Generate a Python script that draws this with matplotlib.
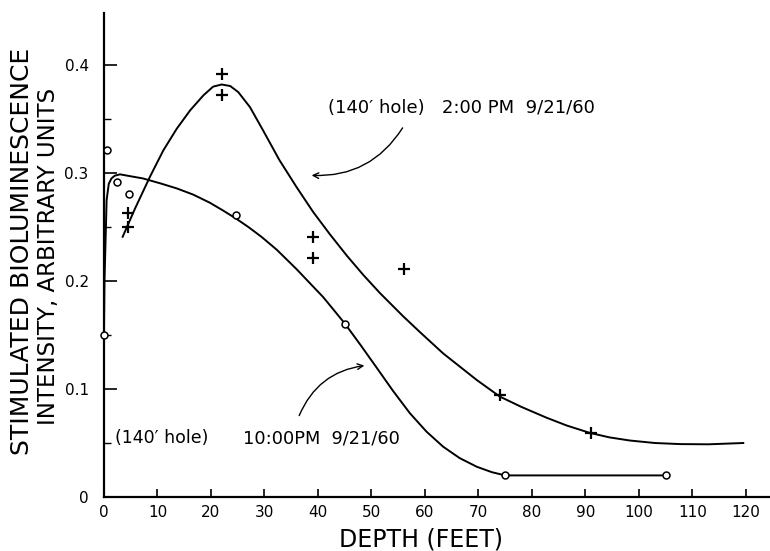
import matplotlib.pyplot as plt
from matplotlib.ticker import MultipleLocator

# measured points, 2:00 PM run (plus signs)
pm2_depth = [4.5, 4.5, 22, 22, 39, 39, 56, 74, 91]
pm2_value = [0.263, 0.250, 0.392, 0.372, 0.241, 0.221, 0.211, 0.094, 0.059]

# measured points, 10:00 PM run (open circles)
pm10_depth = [0, 0.6, 2.4, 4.6, 24.7, 45, 75, 105]
pm10_value = [0.150, 0.321, 0.292, 0.281, 0.261, 0.160, 0.020, 0.020]

# hand drawn curves through the points
pm2_curve_x = [3.5, 5.8, 8.6, 11.1, 13.6, 16.1, 18.6, 20.4, 22.0, 23.6, 25.1,
               27.3, 29.8, 32.8, 36.0, 39.1, 42.2, 45.4, 48.5, 51.6, 55.9,
               59.0, 63.4, 69.7, 74.0, 78.0, 82.7, 86.5, 90.8, 94.5, 98.3,
               103.0, 107.7, 113.0, 119.5]
pm2_curve_y = [0.241, 0.267, 0.2966, 0.321, 0.341, 0.358, 0.372, 0.380, 0.382,
               0.3806, 0.375, 0.361, 0.339, 0.312, 0.287, 0.264, 0.2435,
               0.2235, 0.2055, 0.1888, 0.1675, 0.153, 0.133, 0.1083, 0.093,
               0.0835, 0.0735, 0.0662, 0.0594, 0.0552, 0.0523, 0.0500, 0.0490,
               0.0488, 0.0500]

pm10_curve_x = [0, 0.1, 0.5, 0.9, 1.4, 2.0, 3.0, 5.0, 7.3, 10.5, 13.6, 16.7,
                19.8, 22.2, 24.8, 27.0, 29.5, 32.3, 36.0, 41.0, 45.0, 48.0,
                51.0, 54.0, 57.2, 60.3, 63.4, 66.5, 69.7, 72.5, 75.0, 105.0]
pm10_curve_y = [0.150, 0.200, 0.275, 0.290, 0.295, 0.2975, 0.2988, 0.297,
                0.295, 0.2905, 0.2858, 0.280, 0.2725, 0.2655, 0.2575, 0.250,
                0.2407, 0.229, 0.211, 0.185, 0.1608, 0.1405, 0.1196, 0.0985,
                0.0775, 0.0605, 0.0466, 0.036, 0.028, 0.023, 0.020, 0.020]

x_ticks = list(range(0, 130, 10))
y_ticks = [0, 0.1, 0.2, 0.3, 0.4]
y_tick_labels = ["0", "0.1", "0.2", "0.3", "0.4"]

fig = plt.figure(figsize=(7.7, 5.51), dpi=100)
ax = fig.add_axes([0.135, 0.098, 0.865, 0.878])

ax.plot(pm2_curve_x, pm2_curve_y, color='black', lw=1.4)
ax.plot(pm10_curve_x, pm10_curve_y, color='black', lw=1.4)

ax.plot(pm2_depth, pm2_value, linestyle='none', marker='+', color='black',
        markersize=9, markeredgewidth=1.6)
ax.plot(pm10_depth, pm10_value, linestyle='none', marker='o', color='black',
        markerfacecolor='white', markersize=5, markeredgewidth=1.1,
        clip_on=False, zorder=3)

ax.set_xlim(0, 124.5)
ax.set_ylim(0, 0.448)
ax.spines['top'].set_visible(False)
ax.spines['right'].set_visible(False)
ax.spines['left'].set_linewidth(1.6)
ax.spines['bottom'].set_linewidth(1.6)

ax.set_xticks(x_ticks)
ax.set_xticklabels([str(t) for t in x_ticks])
ax.set_yticks(y_ticks)
ax.set_yticklabels(y_tick_labels)
ax.yaxis.set_minor_locator(MultipleLocator(0.05))
ax.tick_params(axis='both', which='major', direction='in', labelsize=11, width=1.2)
ax.tick_params(axis='x', which='major', length=6, pad=6)
ax.tick_params(axis='y', which='major', length=9, pad=11)
ax.tick_params(axis='y', which='minor', direction='in', length=5, width=1.0)

ax.set_xlabel("DEPTH (FEET)", fontsize=17)
ax.xaxis.set_label_coords(0.476, -0.064)

# two line y label, first line a bit larger as in the original lettering
fig.text(0.0286, 0.543, "STIMULATED BIOLUMINESCENCE", rotation=90,
         fontsize=18, ha='center', va='center')
fig.text(0.063, 0.535, "INTENSITY, ARBITRARY UNITS", rotation=90,
         fontsize=16.5, ha='center', va='center')

ax.text(41.9, 0.360, "(140\u2032 hole)   2:00 PM  9/21/60", fontsize=13,
        va='center', ha='left')
ax.annotate("", xy=(38.3, 0.298), xytext=(56.1, 0.344),
            arrowprops=dict(arrowstyle='->', color='black', lw=1.0,
                            connectionstyle='arc3,rad=-0.3'))

ax.text(2.1, 0.0546, "(140\u2032 hole)", fontsize=12.5, va='center', ha='left')
ax.text(26.0, 0.0546, "10:00PM  9/21/60", fontsize=12.8, va='center', ha='left')
ax.annotate("", xy=(49.2, 0.122), xytext=(36.3, 0.073),
            arrowprops=dict(arrowstyle='->', color='black', lw=1.0,
                            connectionstyle='arc3,rad=-0.3'))

fig.savefig("out.png", dpi=100)
